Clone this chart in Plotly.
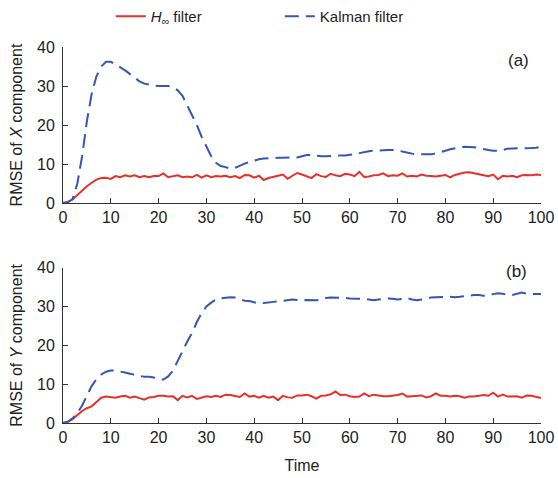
import plotly.graph_objects as go
from plotly.subplots import make_subplots

# time steps
time = list(range(0, 101))

# RMSE of X component
hinf_x = [0, 0.3, 0.9, 2.0, 3.3, 4.3, 5.2, 6.0, 6.4, 6.5,
          6.2, 6.9, 6.6, 7.1, 6.8, 7.1, 6.6, 6.9, 6.6, 6.9,
          6.9, 7.6, 6.6, 6.8, 7.1, 6.6, 6.8, 6.6, 7.2, 6.5,
          7.1, 6.6, 6.9, 6.8, 7.0, 6.6, 6.9, 6.4, 7.2, 7.1,
          6.5, 7.0, 5.9, 6.4, 6.8, 7.0, 7.3, 6.2, 7.0, 7.7,
          7.3, 6.8, 6.4, 7.4, 6.9, 6.7, 7.5, 7.1, 6.9, 7.5,
          7.3, 6.9, 8.0, 6.7, 6.8, 7.1, 7.2, 7.6, 6.9, 7.1,
          7.0, 7.6, 6.8, 7.0, 6.8, 7.3, 7.0, 6.9, 6.8, 7.0,
          7.2, 6.6, 7.2, 7.5, 7.8, 7.9, 7.7, 7.4, 7.1, 6.9,
          7.3, 6.1, 7.0, 6.8, 7.0, 6.6, 7.1, 7.2, 7.1, 7.3,
          7.2]
kalman_x = [0, 0.2, 1.0, 5.0, 12.0, 21.0, 28.0, 32.5, 35.0, 36.2,
            36.2, 35.6, 34.8, 34.0, 33.0, 32.0, 31.2, 30.6, 30.3, 30.1,
            30.0, 30.0, 30.0, 29.7, 28.9, 27.5, 25.0, 22.5, 20.0, 17.0,
            14.5, 12.0, 10.3, 9.5, 9.2, 8.8, 9.0, 9.6, 10.1, 10.5,
            10.9, 11.2, 11.4, 11.5, 11.6, 11.6, 11.6, 11.6, 11.6, 11.7,
            12.0, 12.3, 12.3, 12.1, 12.0, 12.0, 12.1, 12.2, 12.2, 12.2,
            12.3, 12.5, 12.8, 13.1, 13.3, 13.4, 13.5, 13.6, 13.6, 13.6,
            13.5, 13.2, 12.9, 12.6, 12.4, 12.5, 12.5, 12.5, 12.7, 13.0,
            13.4, 13.8, 14.1, 14.3, 14.4, 14.4, 14.3, 14.1, 13.8, 13.6,
            13.4, 13.4, 13.6, 13.9, 14.0, 14.0, 14.1, 14.1, 14.1, 14.2,
            14.4]

# RMSE of Y component
hinf_y = [0, 0.3, 1.0, 2.1, 3.1, 3.8, 4.3, 5.4, 6.5, 6.8,
          6.7, 6.5, 6.8, 7.0, 6.5, 6.8, 6.4, 6.0, 6.6, 6.7,
          7.0, 7.0, 6.8, 6.9, 5.9, 7.0, 6.6, 7.0, 6.2, 6.5,
          6.9, 6.7, 7.0, 6.7, 7.3, 7.2, 7.0, 6.7, 7.6, 6.8,
          7.0, 6.5, 7.0, 6.5, 6.8, 5.9, 7.0, 6.6, 6.5, 7.1,
          7.1, 7.3, 6.9, 6.3, 7.0, 7.1, 7.4, 8.1, 7.2, 7.3,
          6.9, 6.7, 6.8, 7.6, 6.9, 7.3, 7.1, 6.9, 6.9, 7.1,
          7.2, 7.6, 6.8, 6.9, 7.0, 7.1, 6.6, 6.9, 7.6, 7.0,
          7.0, 6.8, 7.0, 6.9, 6.5, 6.8, 6.8, 7.0, 7.2, 7.0,
          7.8, 6.8, 7.3, 6.8, 6.8, 6.9, 6.5, 7.1, 7.0, 6.7,
          6.4]
kalman_y = [0, 0.3, 1.2, 2.5, 4.5, 6.8, 9.5, 11.3, 12.5, 13.2,
            13.5, 13.5, 13.3, 13.0, 12.7, 12.4, 12.1, 11.9, 11.9, 11.7,
            11.3, 11.2, 12.0, 13.5, 16.0, 18.7, 21.0, 23.2, 26.0, 28.3,
            30.0, 31.0, 31.8, 32.1, 32.2, 32.4, 32.3, 31.8, 31.5, 31.4,
            31.0, 30.8, 30.9, 31.1, 31.2, 31.3, 31.5, 31.7, 31.8, 31.7,
            31.5, 31.7, 31.6, 31.6, 31.8, 32.2, 32.3, 32.3, 32.3, 32.2,
            32.1, 32.0, 32.0, 32.0, 31.8, 31.6, 31.8, 32.0, 32.1, 32.0,
            31.8, 32.0, 32.2, 31.8, 31.6, 31.8, 32.1, 32.3, 32.4, 32.5,
            32.5, 32.5, 32.4, 32.5, 32.6, 32.8, 33.0, 33.0, 32.8, 32.8,
            33.2, 33.4, 33.3, 33.0, 33.0, 33.3, 33.6, 33.3, 33.2, 33.2,
            33.2]

red = '#e5312a'
blue = '#3556b3'
axis_col = '#333333'
font = 'Liberation Sans, Arial, sans-serif'

fig = make_subplots(rows=2, cols=1, vertical_spacing=0.17)

fig.add_trace(go.Scatter(x=time, y=hinf_x, mode='lines', name='<i>H</i><sub>∞</sub> filter',
                         line=dict(color=red, width=2)), row=1, col=1)
fig.add_trace(go.Scatter(x=time, y=kalman_x, mode='lines', name='Kalman filter',
                         line=dict(color=blue, width=2, dash='14px,7px')), row=1, col=1)
fig.add_trace(go.Scatter(x=time, y=hinf_y, mode='lines', showlegend=False,
                         line=dict(color=red, width=2)), row=2, col=1)
fig.add_trace(go.Scatter(x=time, y=kalman_y, mode='lines', showlegend=False,
                         line=dict(color=blue, width=2, dash='14px,7px')), row=2, col=1)

fig.update_xaxes(range=[0, 100], tickvals=list(range(0, 101, 10)), ticks='inside', ticklen=5,
                 tickcolor=axis_col, showline=True, linecolor=axis_col, linewidth=1,
                 showgrid=False, zeroline=False, mirror=False, automargin=False,
                 tickfont=dict(size=16))
fig.update_yaxes(range=[0, 40], tickvals=[0, 10, 20, 30, 40], ticks='inside', ticklen=5,
                 tickcolor=axis_col, showline=True, linecolor=axis_col, linewidth=1,
                 showgrid=False, zeroline=False, mirror=False, automargin=False,
                 tickfont=dict(size=16), ticklabelstandoff=4)
fig.update_layout(yaxis=dict(domain=[0.585, 1.0], title=dict(text='RMSE of <i>X</i> component', standoff=10,
                                                               font=dict(size=16))),
                  yaxis2=dict(domain=[0.0, 0.413], title=dict(text='RMSE of <i>Y</i> component', standoff=10,
                                                                font=dict(size=16))),
                  xaxis2=dict(title=dict(text='Time', standoff=14, font=dict(size=16))))

fig.add_annotation(text='(a)', x=0.952, y=0.965, xref='paper', yref='paper', showarrow=False,
                   xanchor='center', yanchor='middle', font=dict(size=17, color='#222'))
fig.add_annotation(text='(b)', x=0.948, y=0.402, xref='paper', yref='paper', showarrow=False,
                   xanchor='center', yanchor='middle', font=dict(size=17, color='#222'))

fig.update_layout(width=558, height=478, margin=dict(l=63, r=17, t=47, b=55),
                  plot_bgcolor='white', paper_bgcolor='white',
                  font=dict(family=font, size=15, color='#222'),
                  legend=dict(orientation='h', x=0.1, y=1.0, xref='paper', yref='container',
                              xanchor='left', yanchor='top',
                              entrywidth=124, font=dict(size=15), bgcolor='rgba(0,0,0,0)'))

fig.write_html("out.html", config={'displayModeBar': False},
               post_script="document.body.style.margin='0px';")
